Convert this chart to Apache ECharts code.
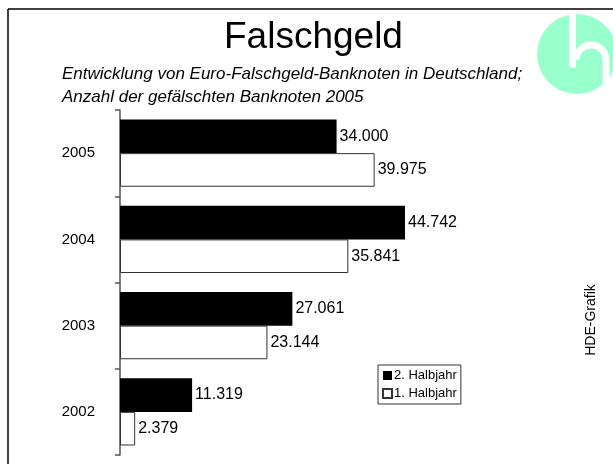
<!DOCTYPE html>
<html>
<head>
<meta charset="utf-8">
<script src="https://cdn.jsdelivr.net/npm/echarts@6/dist/echarts.min.js"></script>
<style>
  html, body { margin: 0; padding: 0; background: #fff; }
  #chart { width: 613px; height: 464px; }
</style>
</head>
<body>
<div id="chart"></div>
<script>
  // Falschgeld - Euro-Banknoten in Deutschland
  var years = ['2005', '2004', '2003', '2002'];
  var halbjahr2 = [34000, 44742, 27061, 11319];
  var halbjahr1 = [39975, 35841, 23144, 2379];
  var seriesNames = ['2. Halbjahr', '1. Halbjahr'];

  var font = 'Arial, "Liberation Sans", sans-serif';

  function fmt(v) {
    return String(v).replace(/\B(?=(\d{3})+(?!\d))/g, '.');
  }

  var myChart = echarts.init(document.getElementById('chart'));
  var option = {
    animation: false,
    backgroundColor: '#fff',
    title: [
      {
        text: 'Falschgeld',
        left: 219,
        top: 14,
        textStyle: { fontFamily: font, fontSize: 37, fontWeight: 'normal', color: '#000' }
      },
      {
        text: 'Entwicklung von Euro-Falschgeld-Banknoten in Deutschland;\nAnzahl der gefälschten Banknoten 2005',
        left: 57,
        top: 58,
        textStyle: { fontFamily: font, fontSize: 17, fontStyle: 'italic', fontWeight: 'normal', color: '#000', lineHeight: 23 }
      }
    ],
    legend: {
      orient: 'vertical',
      left: 378,
      top: 365,
      padding: [4, 4, 4, 4],
      itemGap: 5,
      itemWidth: 9,
      itemHeight: 9,
      borderColor: '#333',
      borderWidth: 1,
      borderRadius: 0,
      data: [
        { name: seriesNames[0], icon: 'rect' },
        { name: seriesNames[1], icon: 'rect' }
      ],
      textStyle: { fontFamily: font, fontSize: 13, color: '#000', padding: [0, 0, 0, -3] }
    },
    grid: {
      left: 120,
      top: 110,
      width: 318.5,
      height: 345,
      containLabel: false
    },
    xAxis: {
      type: 'value',
      min: 0,
      max: 50000,
      show: false
    },
    yAxis: {
      type: 'category',
      inverse: true,
      data: years,
      axisLine: { show: true, lineStyle: { color: '#555', width: 1.5 } },
      axisTick: { show: true, length: 5, lineStyle: { color: '#555', width: 1.5 } },
      axisLabel: { fontFamily: font, fontSize: 15, color: '#000', margin: 25 }
    },
    series: [
      {
        name: seriesNames[0],
        type: 'bar',
        data: halbjahr2,
        barCategoryGap: '22%',
        barGap: '0%',
        itemStyle: { color: '#000' },
        label: {
          show: true,
          position: 'right',
          distance: 3,
          fontFamily: font,
          fontSize: 16,
          color: '#000',
          formatter: function (p) { return fmt(p.value); }
        }
      },
      {
        name: seriesNames[1],
        type: 'bar',
        data: halbjahr1,
        barCategoryGap: '22%',
        barGap: '0%',
        itemStyle: { color: '#fff', borderColor: '#333', borderWidth: 1 },
        label: {
          show: true,
          position: 'right',
          distance: 3,
          fontFamily: font,
          fontSize: 16,
          color: '#000',
          formatter: function (p) { return fmt(p.value); }
        }
      }
    ],
    graphic: [
      // Rahmen
      { type: 'line', shape: { x1: 8, y1: 9, x2: 613, y2: 9 }, style: { stroke: '#000', lineWidth: 1.5 } },
      { type: 'line', shape: { x1: 8, y1: 9, x2: 8, y2: 464 }, style: { stroke: '#000', lineWidth: 1.5 } },
      // Logo
      { type: 'circle', shape: { cx: 577, cy: 54, r: 40 }, style: { fill: '#99ffcc' } },
      { type: 'rect', shape: { x: 569, y: 10, width: 7, height: 58, r: [0, 0, 3.5, 3.5] }, style: { fill: '#fff' } },
      { type: 'arc', shape: { cx: 591, cy: 60, r: 15, startAngle: Math.PI, endAngle: 2 * Math.PI }, style: { stroke: '#fff', lineWidth: 7, fill: null } },
      { type: 'line', shape: { x1: 606, y1: 60, x2: 606, y2: 100 }, style: { stroke: '#fff', lineWidth: 7 } },
      // Quelle
      {
        type: 'text',
        x: 591,
        y: 320,
        rotation: Math.PI / 2,
        style: { text: 'HDE-Grafik', fontFamily: font, fontSize: 14, fill: '#000', align: 'center', verticalAlign: 'middle' }
      }
    ]
  };

  myChart.setOption(option);
  window.addEventListener('resize', function () {
    myChart.resize()
  });
</script>
</body>
</html>
